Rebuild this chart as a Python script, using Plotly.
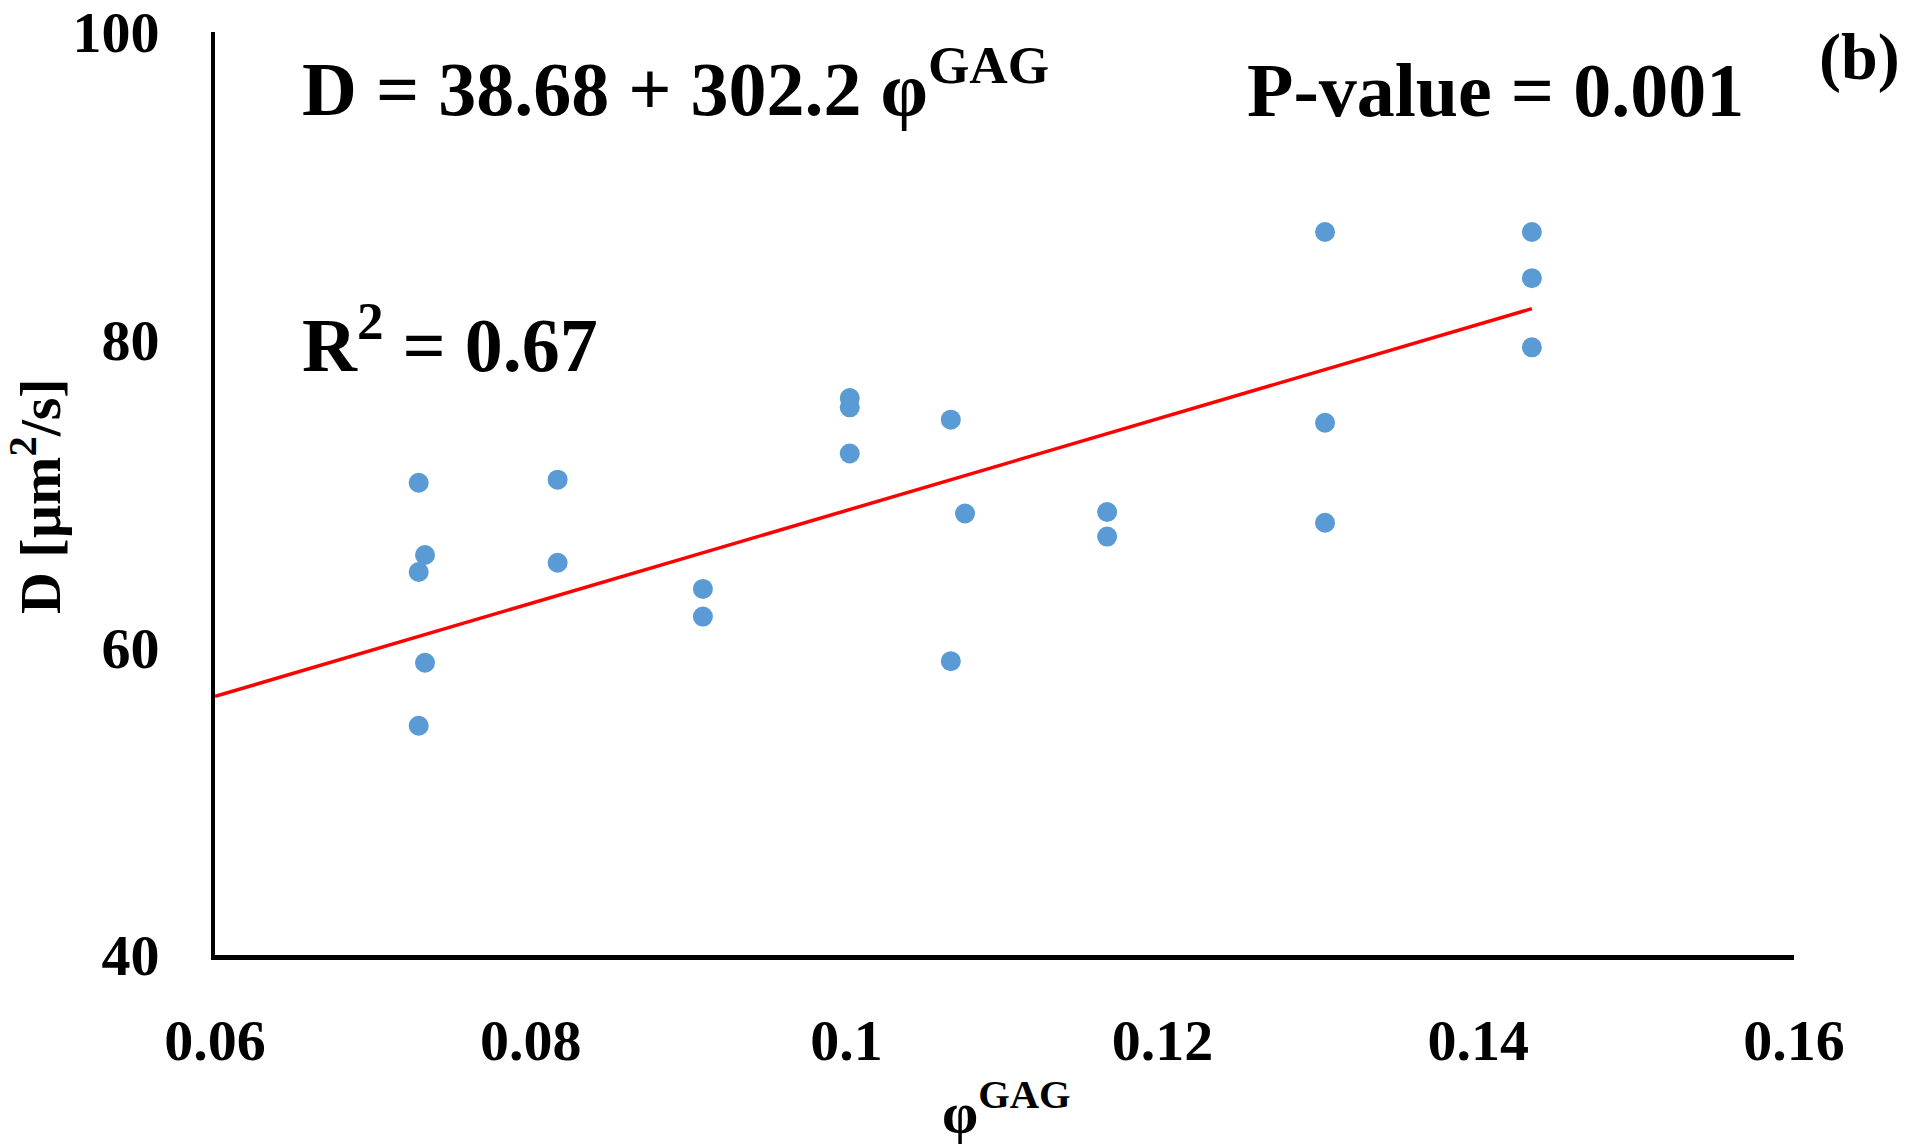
import plotly.graph_objects as go

# Data
phi_gag = [0.0729, 0.0733, 0.0729, 0.0733, 0.0729,
           0.0817, 0.0817,
           0.0909, 0.0909,
           0.1002, 0.1002, 0.1002,
           0.1066, 0.1075, 0.1066,
           0.1165, 0.1165,
           0.1303, 0.1303, 0.1303,
           0.1434, 0.1434, 0.1434]
D_values = [70.7, 66.0, 64.9, 59.0, 54.9,
            70.9, 65.5,
            63.8, 62.0,
            76.2, 75.6, 72.6,
            74.8, 68.7, 59.1,
            68.8, 67.2,
            87.0, 74.6, 68.1,
            87.0, 84.0, 79.5]

# Trendline D = 38.68 + 302.2 * phi
intercept = 38.68
slope = 302.2
trend_x = [0.06, 0.1434]
trend_y = [intercept + slope * v for v in trend_x]

x_ticks = [0.06, 0.08, 0.1, 0.12, 0.14, 0.16]
x_tick_labels = ["0.06", "0.08", "0.1", "0.12", "0.14", "0.16"]
y_ticks = [40, 60, 80, 100]

FONT = "Liberation Serif"

fig = go.Figure()
fig.add_trace(go.Scatter(
    x=phi_gag, y=D_values, mode="markers",
    marker=dict(color="#5B9BD5", size=20, line=dict(width=0)),
    showlegend=False, cliponaxis=False,
))
fig.add_trace(go.Scatter(
    x=trend_x, y=trend_y, mode="lines",
    line=dict(color="#FF0000", width=3.5),
    showlegend=False,
))

fig.update_layout(
    width=1920, height=1144,
    margin=dict(l=215, r=126, t=32, b=189),
    paper_bgcolor="white", plot_bgcolor="white",
    font=dict(family=FONT, color="black"),
    xaxis=dict(
        range=[0.06, 0.16], tickvals=x_ticks, ticktext=x_tick_labels,
        showgrid=False, zeroline=False, automargin=False,
        showline=True, linecolor="black", linewidth=5,
        ticks="", tickfont=dict(family=FONT, size=58, color="black", weight="bold"),
        ticklabelstandoff=30,
    ),
    yaxis=dict(
        range=[40, 100], tickvals=y_ticks,
        showgrid=False, zeroline=False, automargin=False,
        showline=True, linecolor="black", linewidth=4,
        ticks="", tickfont=dict(family=FONT, size=58, color="black", weight="bold"),
        ticklabelstandoff=40,
    ),
)

# Axis titles
fig.add_annotation(text="<b>φ<sup>GAG</sup></b>", xref="paper", yref="paper",
                   x=0.501, y=-0.166, xanchor="center", yanchor="middle", showarrow=False,
                   font=dict(family=FONT, size=58, color="black"))
fig.add_annotation(text="<b>D [µm<sup>2</sup>/s]</b>", xref="paper", yref="paper",
                   x=-0.1135, y=0.497, xanchor="center", yanchor="middle", showarrow=False,
                   textangle=-90, font=dict(family=FONT, size=58, color="black"))

ann_font = dict(family=FONT, size=76, color="black")
fig.add_annotation(text="<b>D = 38.68 + 302.2 φ<sup>GAG</sup></b>", xref="paper", yref="paper",
                   x=0.054, y=0.944, xanchor="left", yanchor="middle", showarrow=False, font=ann_font)
fig.add_annotation(text="<b>P-value = 0.001</b>", xref="paper", yref="paper",
                   x=0.652, y=0.937, xanchor="left", yanchor="middle", showarrow=False, font=ann_font)
fig.add_annotation(text="<b>R<sup>2</sup> = 0.67</b>", xref="paper", yref="paper",
                   x=0.054, y=0.667, xanchor="left", yanchor="middle", showarrow=False, font=ann_font)
fig.add_annotation(text="<b>(b)</b>", xref="paper", yref="paper",
                   x=1.0146, y=0.973, xanchor="left", yanchor="middle", showarrow=False,
                   font=dict(family=FONT, size=66, color="black"))

fig.write_html("out.html", config={"displayModeBar": False},
               post_script="document.body.style.margin='0';")
